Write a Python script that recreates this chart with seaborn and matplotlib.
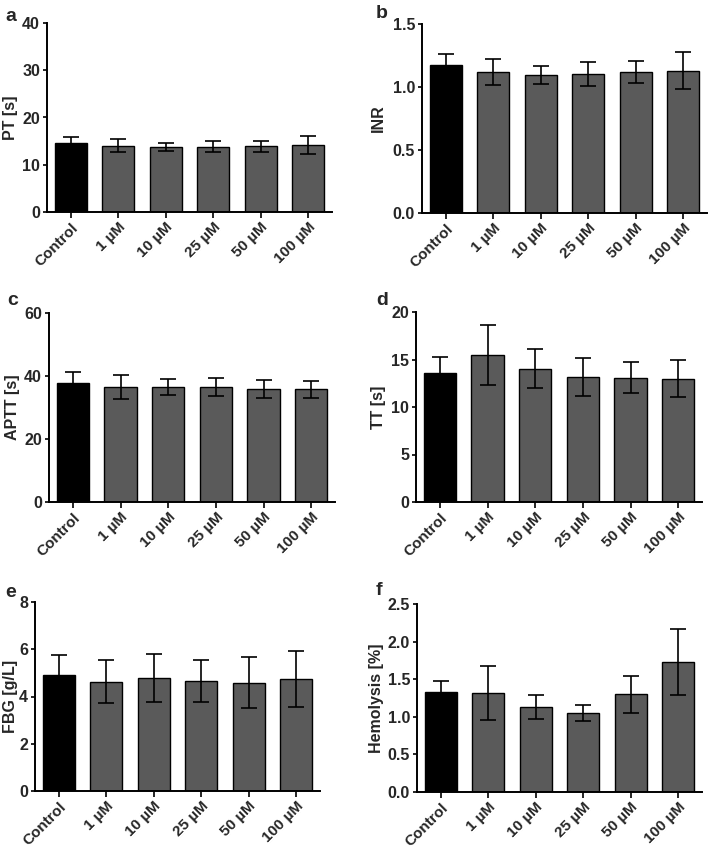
import matplotlib
matplotlib.use("Agg")
import matplotlib.pyplot as plt
import seaborn as sns
import numpy as np

sns.set_style("ticks")
plt.rcParams['font.family'] = ['Liberation Sans', 'DejaVu Sans']
plt.rcParams['font.weight'] = 'bold'
plt.rcParams['axes.labelweight'] = 'bold'

categories = ["Control", "1 \u00b5M", "10 \u00b5M", "25 \u00b5M", "50 \u00b5M", "100 \u00b5M"]

pt_mean = [14.7, 14.0, 13.8, 13.8, 13.9, 14.1]
pt_sd = [1.1, 1.4, 0.85, 1.2, 1.2, 1.9]

inr_mean = [1.172, 1.119, 1.098, 1.106, 1.119, 1.13]
inr_sd = [0.09, 0.10, 0.072, 0.095, 0.09, 0.145]

aptt_mean = [37.7, 36.6, 36.5, 36.6, 35.8, 35.8]
aptt_sd = [3.6, 3.8, 2.5, 2.8, 2.85, 2.65]

tt_mean = [13.6, 15.5, 14.04, 13.19, 13.09, 12.98]
tt_sd = [1.65, 3.15, 2.04, 2.0, 1.6, 1.93]

fbg_mean = [4.89, 4.63, 4.78, 4.65, 4.58, 4.74]
fbg_sd = [0.87, 0.92, 1.03, 0.89, 1.08, 1.19]

hem_mean = [1.336, 1.318, 1.134, 1.054, 1.30, 1.731]
hem_sd = [0.136, 0.358, 0.158, 0.107, 0.244, 0.435]

panels = [
    dict(letter="a", ylabel="PT [s]", mean=pt_mean, sd=pt_sd, ylim=40, yticks=[0, 10, 20, 30, 40], fmt="{:.0f}",
         box=(47, 332, 23, 212), labx=-0.10),
    dict(letter="b", ylabel="INR", mean=inr_mean, sd=inr_sd, ylim=1.5, yticks=[0, 0.5, 1.0, 1.5], fmt="{:.1f}",
         box=(422, 707, 24, 213), labx=-0.126),
    dict(letter="c", ylabel="APTT [s]", mean=aptt_mean, sd=aptt_sd, ylim=60, yticks=[0, 20, 40, 60], fmt="{:.0f}",
         box=(49, 335, 313, 502), labx=-0.10),
    dict(letter="d", ylabel="TT [s]", mean=tt_mean, sd=tt_sd, ylim=20, yticks=[0, 5, 10, 15, 20], fmt="{:.0f}",
         box=(416, 702, 312, 502), labx=-0.105),
    dict(letter="e", ylabel="FBG [g/L]", mean=fbg_mean, sd=fbg_sd, ylim=8, yticks=[0, 2, 4, 6, 8], fmt="{:.0f}",
         box=(35, 320, 602, 791), labx=-0.058),
    dict(letter="f", ylabel="Hemolysis [%]", mean=hem_mean, sd=hem_sd, ylim=2.5, yticks=[0, 0.5, 1.0, 1.5, 2.0, 2.5], fmt="{:.1f}",
         box=(417, 702, 604, 792), labx=-0.116),
]

letter_pos = {"a": (5, 8), "b": (376, 5), "c": (7, 292), "d": (376, 292), "e": (5, 584), "f": (376, 582)}

W, H = 708, 850
fig = plt.figure(figsize=(W / 100, H / 100), dpi=100)

palette = ["#000000"] + ["#5a5a5a"] * 5

for p in panels:
    l, r, t, b = p["box"]
    ax = fig.add_axes([l / W, (H - b) / H, (r - l) / W, (b - t) / H])
    sns.barplot(x=categories, y=p["mean"], hue=categories, palette=palette, legend=False,
                edgecolor="black", linewidth=1.0, width=0.68, ax=ax, errorbar=None, saturation=1)
    ax.errorbar(np.arange(len(categories)), p["mean"], yerr=p["sd"], fmt="none", ecolor="black",
                elinewidth=1.2, capsize=6, capthick=1.2, zorder=5)
    ax.set_xlim(-0.5, 5.5)
    ax.set_ylim(0, p["ylim"])
    ax.set_yticks(p["yticks"])
    ax.set_yticklabels([p["fmt"].format(v) for v in p["yticks"]], fontsize=11.5, fontweight="bold")
    ax.set_xticks(np.arange(len(categories)))
    ax.set_xticklabels(categories, rotation=45, ha="right", rotation_mode="anchor",
                       fontsize=11, fontweight="bold")
    ax.set_xlabel("")
    ax.set_ylabel(p["ylabel"], fontsize=11.5, fontweight="bold")
    ax.yaxis.set_label_coords(p["labx"], 0.5)
    for s in ["top", "right"]:
        ax.spines[s].set_visible(False)
    for s in ["left", "bottom"]:
        ax.spines[s].set_linewidth(1.4)
        ax.spines[s].set_color("black")
    ax.tick_params(axis="x", length=4.5, width=1.2, color="black", pad=1.5)
    ax.tick_params(axis="y", length=3, width=1.2, color="black", pad=2)
    lx, ly = letter_pos[p["letter"]]
    fig.text(lx / W, 1 - ly / H, p["letter"], fontsize=14, fontweight="bold", ha="left", va="top")

fig.savefig("out.png", dpi=100)
